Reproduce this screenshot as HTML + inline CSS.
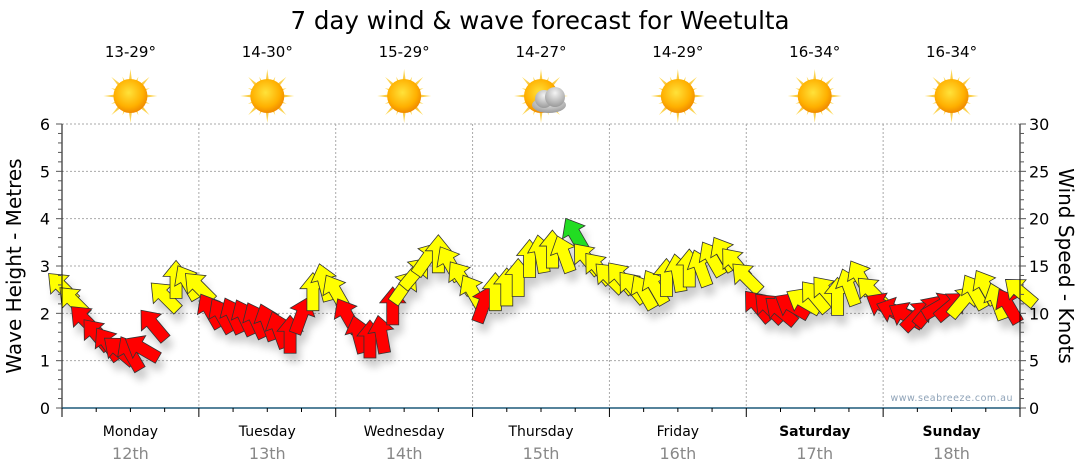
<!DOCTYPE html>
<html><head><meta charset="utf-8">
<style>
body{margin:0;background:#fff;}
svg{display:block;font-family:"DejaVu Sans","Liberation Sans",sans-serif;}
</style></head>
<body>
<svg id="chart" width="1080" height="475" viewBox="0 0 1080 475" xmlns="http://www.w3.org/2000/svg">
<defs>
<radialGradient id="sunG" cx="45%" cy="40%" r="60%"><stop offset="0" stop-color="#ffe23a"/><stop offset="0.7" stop-color="#ffb000"/><stop offset="1" stop-color="#f08a00"/></radialGradient>
<linearGradient id="rayG" x1="0" y1="0" x2="0" y2="1"><stop offset="0" stop-color="#ffe066"/><stop offset="1" stop-color="#f0a000"/></linearGradient>
<radialGradient id="cloudG" cx="50%" cy="30%" r="70%"><stop offset="0" stop-color="#f4f4f4"/><stop offset="1" stop-color="#9a9a9a"/></radialGradient>
<filter id="shadow" x="-50%" y="-50%" width="200%" height="200%"><feGaussianBlur stdDeviation="4"/></filter>
</defs>
<text x="540" y="29" text-anchor="middle" font-size="24.5" fill="#000">7 day wind &amp; wave forecast for Weetulta</text>
<g id="grid"></g>
<g id="icons"></g>
<g id="shadows" filter="url(#shadow)" opacity="0.2"></g>
<g id="arrows"></g>
<g id="axes"></g>
<text transform="translate(21,266) rotate(-90)" text-anchor="middle" font-size="20" fill="#000">Wave Height - Metres</text>
<text transform="translate(1059,266) rotate(90)" text-anchor="middle" font-size="20" fill="#000">Wind Speed - Knots</text>
<text x="1013" y="401" text-anchor="end" font-size="9.5" fill="#8fa3b8" letter-spacing="0.5">www.seabreeze.com.au</text>
</svg>
<script>
const days = ["Monday","Tuesday","Wednesday","Thursday","Friday","Saturday","Sunday"];
const dates = ["12th","13th","14th","15th","16th","17th","18th"];
const temps = ["13-29°","14-30°","15-29°","14-27°","14-29°","16-34°","16-34°"];
const cloudy = [false,false,false,true,false,false,false];
const boldDays = [false,false,false,false,false,true,true];
const waveTicks = [0,1,2,3,4,5,6];
const knotTicks = [0,5,10,15,20,25,30];
// wind speed (knots), every 2 hours
const windSpeed = [
13,11.5,9.5,8,7,6.3,6,6.5,9,12,13.8,13.5,
13,10.5,10,10,9.8,9.5,9.3,8.5,8,10,12.5,13.5,
12.5,10,8,7.5,8,11,13,14.5,16,16.5,15.5,14,
12.5,11.2,12.5,13,14,16,16.5,17,16.5,18.5,16,15,
14,14,13,12.5,13,14,14.5,15,15,16,16.5,15.5,
14,11,10.8,10.5,11,11.5,12,12.5,12,13,14,12.5,
11,10.5,10,10,10.5,11,11,11.5,12.5,13,11.5,11,
12.5];
// arrow pointing direction (degrees from up, clockwise)
const windDir = [
-45,-45,-45,-40,-35,-50,-30,-60,-40,-45,0,-30,
-45,-30,-30,-25,-25,-25,-20,-20,0,20,0,-15,
-30,-30,-15,0,-10,0,35,40,35,0,-30,-35,
-30,20,0,0,0,0,-10,0,-20,-30,-40,-40,
-45,-40,-40,-30,-30,0,-10,0,-20,-30,-30,-40,
-45,-40,-45,-50,-60,-60,-40,-40,0,-20,-30,-45,
-60,-70,-60,45,40,60,50,40,-30,-30,-20,-30,
-50];

const X0=62,X1=1020,Y0=408,Y1=124;
const dayW=(X1-X0)/7;
const xHour=h=>X0+h*dayW/24;
const yWave=m=>Y0-(m/6)*(Y0-Y1);
const yKnot=k=>Y0-(k/30)*(Y0-Y1);
const NS="http://www.w3.org/2000/svg";
function mk(tag,attrs,parent){const e=document.createElementNS(NS,tag);for(const k in attrs)e.setAttribute(k,attrs[k]);parent.appendChild(e);return e;}
const grid=document.getElementById('grid'),axes=document.getElementById('axes'),icons=document.getElementById('icons'),arrows=document.getElementById('arrows'),shadows=document.getElementById('shadows');

waveTicks.forEach(v=>{if(v===0)return;const g=mk('line',{x1:X0,x2:X1,y1:yWave(v),y2:yWave(v),stroke:'#aaa','stroke-dasharray':'2,2'},grid);

});
for(let d=1;d<7;d++){const g=mk('line',{x1:X0+d*dayW,x2:X0+d*dayW,y1:Y1,y2:Y0,stroke:'#aaa','stroke-dasharray':'2,2'},grid);

}

mk('line',{x1:X0,x2:X0,y1:Y1,y2:Y0,stroke:'#000'},axes);
for(let i=0;i<=30;i++){const y=yWave(i*0.2);const major=i%5===0;mk('line',{x1:X0-(major?6:4),x2:X0,y1:y,y2:y,stroke:'#555'},axes);}
waveTicks.forEach(v=>{const t=mk('text',{x:50,y:yWave(v)+6,'text-anchor':'end','font-size':16,fill:'#000'},axes);t.textContent=v;

});
mk('line',{x1:X1,x2:X1,y1:Y1,y2:Y0,stroke:'#000'},axes);
for(let k=0;k<=30;k++){const y=yKnot(k);const major=k%5===0;mk('line',{x1:X1,x2:X1+(major?6:4),y1:y,y2:y,stroke:'#555'},axes);}
knotTicks.forEach(v=>{const t=mk('text',{x:1029,y:yKnot(v)+6,'text-anchor':'start','font-size':16,fill:'#000'},axes);t.textContent=v;

});
mk('line',{x1:X0,x2:X1,y1:Y0,y2:Y0,stroke:'#1f5a7a','stroke-width':1.5},axes);
for(let h=0;h<=168;h+=6){const x=xHour(h);const major=h%24===0;mk('line',{x1:x,x2:x,y1:Y0,y2:Y0+(major?9:4),stroke:'#000'},axes);}
days.forEach((d,i)=>{const cx=X0+(i+0.5)*dayW;
const t=mk('text',{x:cx,y:436,'text-anchor':'middle','font-size':14,fill:'#000','font-weight':boldDays[i]?'bold':'normal'},axes);t.textContent=d;


const t2=mk('text',{x:cx,y:459,'text-anchor':'middle','font-size':16,fill:'#888'},axes);t2.textContent=dates[i];


const t3=mk('text',{x:cx,y:57,'text-anchor':'middle','font-size':15,fill:'#000'},icons);t3.textContent=temps[i];


const g=mk('g',{transform:`translate(${cx},96)`},icons);


for(let r=0;r<16;r++){const long=r%2===0;const L=long?27:21;mk('polygon',{points:`-3.5,0 3.5,0 0,-${L}`,fill:'url(#rayG)',transform:`rotate(${r*22.5})`},g);}
mk('circle',{r:17,fill:'url(#sunG)'},g);
if(cloudy[i]){const c=mk('g',{transform:'translate(8,5)'},g);
mk('ellipse',{cx:0,cy:4,rx:17,ry:8,fill:'url(#cloudG)'},c);mk('circle',{cx:-5,cy:-2,r:9,fill:'url(#cloudG)'},c);mk('circle',{cx:6,cy:-4,r:10,fill:'url(#cloudG)'},c);}
});

const arrowPts="0,-19 13,-3 6,-3 6,19 -6,19 -6,-3 -13,-3";
windSpeed.forEach((k,i)=>{
 const x=xHour(i*2), y=yKnot(k)+2;
 const col=k>=18?'#22dd22':(k>=11.5?'#ffff00':'#ff0000');
 const s=mk('polygon',{points:arrowPts,fill:'#000',transform:`translate(${x+4},${y+9}) rotate(${windDir[i]})`},shadows);
 
 
 const a=mk('polygon',{points:arrowPts,fill:col,stroke:'#333','stroke-width':0.8,'stroke-linejoin':'miter',transform:`translate(${x},${y}) rotate(${windDir[i]})`},arrows);
 
 
});
</script>
</body></html>
